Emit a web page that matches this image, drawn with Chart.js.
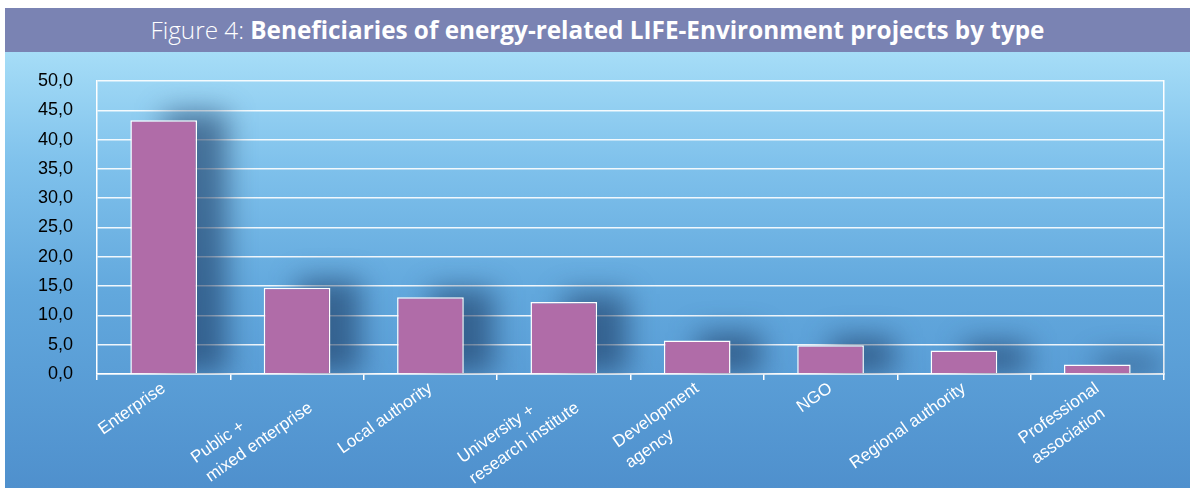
<!DOCTYPE html>
<html>
<head>
    <title>Beneficiaries of energy-related LIFE-Environment projects</title>
    <style>
        body {
            margin: 0;
            background-color: #ffffff;
            width: 1190px;
            height: 488px;
            overflow: hidden;
            position: relative;
        }
        #titleBand {
            position: absolute;
            left: 5px;
            top: 8px;
            width: 1185px;
            height: 44px;
            background-color: #7a83b3;
            color: #ffffff;
            font-family: "Open Sans", sans-serif;
            font-size: 24.3px;
            line-height: 44px;
            text-align: center;
        }
        #titleBand .light { font-weight: 300; }
        #titleBand .bold { font-weight: 700; }
        #chartBox {
            position: absolute;
            left: 5px;
            top: 52px;
            width: 1185px;
            height: 436px;
            background: linear-gradient(to bottom, #a6ddf7 0%, #80c2ec 25%, #62a8dd 55%, #4f90cd 100%);
        }
    </style>
    <script src="https://cdn.jsdelivr.net/npm/chart.js"></script>
</head>
<body>
    <div id="titleBand"><span class="light">Figure 4: </span><span class="bold">Beneficiaries of energy-related LIFE-Environment projects by type</span></div>
    <div id="chartBox">
        <canvas id="beneficiariesChart" width="1185" height="436"></canvas>
    </div>
    <script>
        // categories (multi-line labels as shown under the axis)
        const categories = [
            ['Enterprise'],
            ['Public +', 'mixed enterprise'],
            ['Local authority'],
            ['University +', 'research institute'],
            ['Development', 'agency'],
            ['NGO'],
            ['Regional authority'],
            ['Professional', 'association']
        ];
        // share of beneficiaries
        const shares = [43.3, 14.7, 13.1, 12.3, 5.7, 4.9, 4.0, 1.6];
        const yTicks = [0, 5, 10, 15, 20, 25, 30, 35, 40, 45, 50];

        const labelFont = { family: 'Liberation Sans, Arial, sans-serif', size: 17, lineHeight: 1.4 };

        // Chart.js right-aligns rotated lines; the original has them left-aligned,
        // so pad the shorter lines with trailing spaces to the longest one
        const measure = document.createElement('canvas').getContext('2d');
        measure.font = labelFont.size + 'px ' + labelFont.family;
        function leftAlign(lines) {
            const widest = Math.max(...lines.map(l => measure.measureText(l).width));
            return lines.map(l => {
                let s = l;
                while (measure.measureText(s + ' ').width <= widest + 2) s += ' ';
                return s;
            });
        }
        const xLabels = categories.map(leftAlign);

        // soft dark shadow behind each bar, placed from the bar elements
        const barShadow = {
            id: 'barShadow',
            beforeDatasetsDraw(chart) {
                const c = chart.ctx;
                const area = chart.chartArea;
                const meta = chart.getDatasetMeta(0);
                c.save();
                c.beginPath();
                c.rect(area.left, area.top, area.right - area.left, area.bottom - area.top);
                c.clip();
                c.filter = 'blur(14px)';
                c.fillStyle = 'rgba(25, 55, 95, 0.6)';
                meta.data.forEach(bar => {
                    const p = bar.getProps(['x', 'y', 'base', 'width']);
                    c.fillRect(p.x, p.y - 8, p.width / 2 + 30, p.base - p.y + 8);
                });
                c.restore();
            }
        };

        const ctx = document.getElementById('beneficiariesChart').getContext('2d');
        new Chart(ctx, {
            type: 'bar',
            data: {
                labels: xLabels,
                datasets: [{
                    data: shares,
                    backgroundColor: '#b06ca8',
                    borderColor: '#ffffff',
                    borderWidth: 1.5,
                    barPercentage: 0.5,
                    categoryPercentage: 1.0
                }]
            },
            options: {
                responsive: false,
                animation: false,
                layout: { padding: { top: 29, right: 26, left: 0, bottom: 0 } },
                plugins: {
                    legend: { display: false },
                    tooltip: { enabled: false }
                },
                scales: {
                    x: {
                        offset: true,
                        grid: {
                            drawOnChartArea: false,
                            drawTicks: true,
                            tickLength: 6,
                            color: '#ffffff',
                            lineWidth: 1.5
                        },
                        border: { color: '#ffffff', width: 1.5 },
                        ticks: {
                            color: '#ffffff',
                            font: labelFont,
                            maxRotation: 35,
                            minRotation: 35,
                            padding: -3,
                            autoSkip: false
                        },
                        afterFit(scale) {
                            scale.height = 114;
                            scale.paddingTop = 0;
                            scale.paddingBottom = 0;
                        }
                    },
                    y: {
                        min: 0,
                        max: 50,
                        afterBuildTicks(scale) {
                            scale.ticks = yTicks.map(v => ({ value: v }));
                        },
                        grid: {
                            color: 'rgba(255, 255, 255, 0.9)',
                            lineWidth: 1.5,
                            drawTicks: false
                        },
                        border: { color: '#ffffff', width: 1.5 },
                        ticks: {
                            color: '#000000',
                            padding: 24,
                            font: { family: 'Liberation Sans, Arial, sans-serif', size: 18 },
                            callback: v => v.toFixed(1).replace('.', ',')
                        },
                        afterFit(scale) {
                            scale.width = 92;
                            scale.paddingTop = 0;
                            scale.paddingBottom = 0;
                        }
                    },
                    yRight: {
                        position: 'right',
                        min: 0,
                        max: 50,
                        grid: { display: false, drawTicks: false },
                        border: { color: '#ffffff', width: 1.5 },
                        ticks: { display: false },
                        afterFit(scale) {
                            scale.width = 0;
                            scale.paddingTop = 0;
                            scale.paddingBottom = 0;
                        }
                    }
                }
            },
            plugins: [barShadow]
        });
    </script>
</body>
</html>
